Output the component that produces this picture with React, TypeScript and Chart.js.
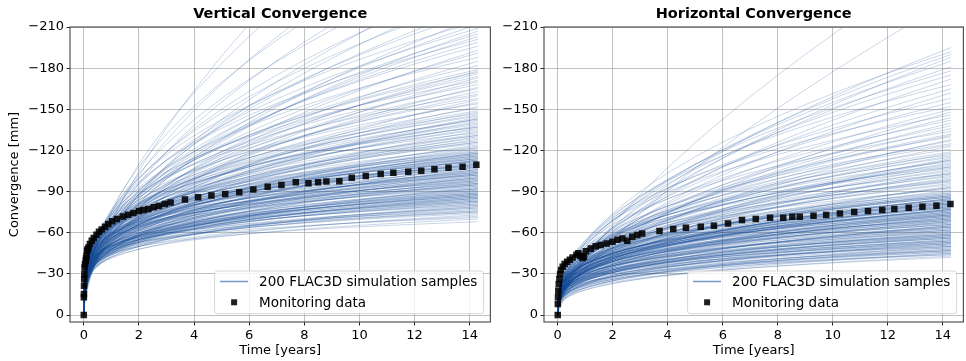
import React, { useEffect, useRef } from 'react';
import { Chart, registerables } from 'chart.js';

Chart.register(...registerables);

// ---------------- data ----------------
const T_END = 14.3;
const TIME_GRID = [0, 0.002, 0.005, 0.01, 0.02, 0.035, 0.05, 0.075, 0.1, 0.15, 0.2, 0.3, 0.4, 0.5, 0.65, 0.8, 1, 1.25, 1.5, 2, 2.5, 3, 3.5, 4, 5, 6, 7, 8, 9, 10, 11, 12, 13, 14.3];
const X_TICKS = [0, 2, 4, 6, 8, 10, 12, 14];
const Y_TICKS = [-210, -180, -150, -120, -90, -60, -30, 0];

const VERT_MON_T = [0, 0.003, 0.006, 0.01, 0.015, 0.02, 0.03, 0.045, 0.07, 0.085, 0.1, 0.12, 0.14, 0.17, 0.22, 0.29, 0.36, 0.46, 0.55, 0.65, 0.77, 0.89, 1.03, 1.2, 1.42, 1.61, 1.8, 2.0, 2.16, 2.34, 2.54, 2.73, 2.94, 3.15, 3.67, 4.15, 4.63, 5.13, 5.64, 6.15, 6.67, 7.17, 7.69, 8.15, 8.5, 8.8, 9.27, 9.72, 10.23, 10.77, 11.23, 11.77, 12.24, 12.72, 13.23, 13.74, 14.24];
const VERT_MON_V = [0, -12.9, -15.3, -21.4, -26.2, -29.9, -34.7, -37, -39.6, -41.5, -43.2, -46.9, -48, -49.3, -51.7, -54.2, -56.1, -58.6, -60.7, -62.4, -64.4, -66.3, -68.3, -70, -71.9, -73.1, -74.3, -75.8, -76.5, -77.3, -78.5, -79.4, -80.9, -82.1, -84.2, -85.9, -87.1, -88.3, -89.5, -91.5, -93.6, -94.8, -96.8, -96, -96.8, -97.3, -97.5, -100.1, -101.4, -102.8, -103.8, -104.5, -105.2, -106.2, -107.4, -108.1, -109.6];

const HORZ_MON_T = [0, 0.003, 0.01, 0.02, 0.036, 0.06, 0.085, 0.12, 0.18, 0.25, 0.34, 0.44, 0.54, 0.68, 0.75, 0.82, 0.9, 0.95, 1.02, 1.2, 1.38, 1.56, 1.78, 1.99, 2.17, 2.35, 2.53, 2.71, 2.89, 3.07, 3.7, 4.2, 4.66, 5.2, 5.68, 6.19, 6.7, 7.2, 7.72, 8.2, 8.53, 8.8, 9.3, 9.76, 10.26, 10.78, 11.28, 11.8, 12.24, 12.76, 13.26, 13.77, 14.28];
const HORZ_MON_V = [0, -8, -12.9, -17.7, -22.6, -26.2, -29.9, -32.8, -35.2, -37.2, -38.9, -40.3, -42, -44, -45, -43, -41.5, -42.5, -46.5, -48.4, -50.1, -51.1, -52.2, -53.5, -54.8, -55.8, -54.2, -57.1, -58.3, -59.5, -61.2, -62.7, -63.7, -64.4, -65.1, -66.8, -69.2, -70, -70.9, -70.9, -71.7, -71.7, -72.4, -72.9, -74.1, -75.1, -75.8, -76.5, -77.3, -78.2, -79, -79.7, -80.9];

// each simulation sample: convergence read at 2 years and at the end (14.3 years)
const VERT_SAMPLE_2Y = [
  -50, -48, -53, -50, -48, -53, -52, -55, -51, -53, -51, -55, -52, -57, -50, -55, -54, -57, -53, -57, -57, -54, -58, -56, -53, -58, -57, -60, -56, -58, -55, -60, -57, -56, -50, -55, -55, -59, -55, -59, -58, -54, -58,
  -60, -54, -64, -58, -53, -62, -60, -66, -57, -61, -56, -65, -59, -68, -55, -64, -61, -67, -58, -65, -65, -59, -68, -62, -58, -67, -64, -70, -62, -66, -60, -69, -64, -73, -59, -68, -66, -72, -63, -70, -69, -63, -73, -67, -62, -71, -69, -75, -66, -70, -65, -74, -68, -77, -64, -73, -70, -76,
  -55, -63, -64, -58, -68, -63, -59, -69, -67, -74, -66, -71, -66, -65, -62, -74, -61,
  -72, -66, -76, -70, -65, -75, -72, -78, -69, -74, -68, -77, -72, -81, -67, -77, -74, -80, -71, -79, -78, -72, -82, -76, -71, -81, -78, -84, -75, -80, -66, -76, -71, -82, -70,
  -81, -72, -86, -78, -70, -84, -80, -89, -77, -83, -74, -88, -79, -92, -73, -86, -81, -90, -78, -88,
  -87, -79, -93, -85, -78, -91, -88, -97, -85, -91, -82, -96,
  -87, -100, -81, -95, -90, -100, -88, -99, -88, -103, -96, -108, -102, -110, -105,
];
const VERT_SAMPLE_END = [
  -68, -70, -71, -72, -73, -74, -75, -75, -76, -77, -78, -78, -79, -80, -80, -81, -82, -82, -83, -83, -84, -85, -85, -86, -86, -87, -87, -88, -88, -89, -89, -90, -90, -76, -79, -81, -84, -86, -88, -89, -87, -85, -83,
  -91, -91, -92, -92, -93, -93, -94, -94, -95, -95, -96, -96, -97, -97, -98, -98, -99, -99, -100, -100, -101, -101, -102, -102, -103, -103, -104, -104, -105, -105, -106, -106, -107, -107, -108, -108, -109, -109, -110, -110, -111, -111, -112, -112, -113, -113, -114, -114, -115, -115, -116, -116, -117, -117, -118, -118, -119, -119,
  -92, -95, -98, -100, -102, -104, -106, -108, -110, -112, -114, -116, -118, -96, -103, -109, -113,
  -120, -121, -122, -123, -124, -125, -126, -127, -128, -129, -130, -131, -132, -133, -134, -135, -136, -137, -138, -139, -140, -141, -142, -143, -144, -145, -146, -147, -148, -149, -122, -126, -131, -137, -143,
  -151, -152, -154, -155, -157, -158, -160, -161, -163, -165, -166, -168, -170, -171, -173, -174, -176, -177, -178, -179,
  -182, -185, -188, -191, -193, -196, -199, -201, -203, -205, -207, -209,
  -212, -214, -217, -221, -225, -230, -236, -242, -248, -258, -270, -285, -300, -330, -370,
];

const HORZ_SAMPLE_2Y = [
  -24, -23, -28, -25, -23, -28, -26, -30, -26, -28, -25, -30, -27, -32, -25, -31, -29, -33, -28, -32, -32, -29, -34, -31, -29, -34, -32, -36, -31, -34, -31, -36, -33, -38, -31,
  -26, -27, -31, -28, -33, -33, -31, -36, -33, -28,
  -36, -32, -39, -35, -33, -39, -38, -42, -37, -40, -37, -43, -39, -46, -36, -43, -41, -45, -40, -45, -45, -41, -47, -44, -41, -48, -46, -50, -45,
  -32, -37, -35, -40, -33, -38, -41, -36, -44, -39, -37, -42, -35, -42, -45, -41, -40, -45, -43, -39, -41, -46, -43, -49, -41, -47, -49, -44, -52,
  -36, -34, -40, -35, -39, -42, -39, -44, -37, -42, -45, -40, -42, -45, -40, -49, -43, -42, -48, -41, -47, -48, -36, -39, -44, -39, -45,
  -49, -43, -53, -47, -42, -51, -49, -55, -46, -50, -45, -54, -48, -58, -44, -53, -50, -57, -48, -55, -54, -49, -58, -52, -47, -57, -54, -60, -52, -56, -43, -53, -49, -59, -46,
  -58, -51, -62, -55, -49, -61, -57, -66, -54, -59, -53, -64, -56, -69, -51, -59, -56,
  -72, -60, -73, -63, -57, -69, -63, -71, -58, -69,
  -64, -74, -68, -61, -70, -64,
  -66, -55,
];
const HORZ_SAMPLE_END = [
  -42, -43, -44, -45, -45, -46, -46, -47, -47, -48, -48, -49, -49, -50, -50, -51, -51, -52, -52, -53, -53, -54, -54, -55, -55, -56, -56, -57, -57, -58, -58, -59, -59, -60, -60,
  -44, -47, -50, -52, -54, -56, -57, -58, -59, -53,
  -61, -62, -63, -64, -65, -66, -67, -68, -69, -70, -71, -72, -73, -74, -75, -76, -77, -78, -79, -80, -81, -82, -83, -84, -85, -86, -87, -88, -89,
  -61, -62, -63, -64, -65, -66, -67, -68, -69, -70, -71, -72, -73, -74, -75, -76, -77, -78, -79, -80, -81, -82, -83, -84, -85, -86, -87, -88, -89,
  -62, -64, -66, -68, -70, -71, -72, -73, -74, -75, -76, -77, -78, -79, -80, -81, -82, -83, -84, -85, -86, -87, -65, -69, -73, -77, -81,
  -90, -91, -92, -93, -94, -95, -96, -97, -98, -99, -100, -101, -102, -103, -104, -105, -106, -107, -108, -109, -110, -111, -112, -113, -114, -115, -116, -117, -118, -119, -93, -98, -103, -108, -113,
  -121, -123, -125, -127, -128, -130, -132, -134, -136, -138, -140, -142, -144, -146, -148, -124, -131,
  -178, -172, -168, -165, -162, -158, -155, -152, -150, -175,
  -195, -192, -190, -188, -185, -181,
  -263, -230,
];

// ---------------- styles ----------------
const FONT = 'DejaVu Sans';
const SAMPLE_COLOR = 'rgba(16, 72, 148, 0.22)';
const LEGEND_LINE = 'rgba(22, 82, 160, 0.6)';
const MON_COLOR = 'rgba(0, 0, 0, 0.88)';
const GRID_COLOR = 'rgba(160, 160, 160, 0.65)';
const SPINE_COLOR = '#555555';

function sampleCurve(v2: number, vEnd: number) {
  const b = Math.log(vEnd / v2) / Math.log(T_END / 2);
  return TIME_GRID.map((t) => ({ x: t, y: t === 0 ? 0 : v2 * Math.pow(t / 2, b) }));
}

function fmtY(v: number) {
  return v < 0 ? '\u2212' + Math.abs(v) : String(v);
}

type PanelProps = {
  title: string;
  yLabel: boolean;
  s2: number[];
  sEnd: number[];
  monT: number[];
  monV: number[];
  left: number;
  width: number;
  yAxisWidth: number;
  padRight: number;
};

function Panel(p: PanelProps) {
  const ref = useRef<HTMLCanvasElement | null>(null);
  useEffect(() => {
    if (!ref.current) return;
    const decor = {
      id: 'decor',
      afterDraw(chart: any) {
        const { ctx, chartArea: a } = chart;
        ctx.save();
        // spines
        ctx.strokeStyle = SPINE_COLOR;
        ctx.lineWidth = 1.2;
        ctx.strokeRect(a.left, a.top, a.right - a.left, a.bottom - a.top);
        // title
        const cx = (a.left + a.right) / 2;
        ctx.fillStyle = '#000';
        ctx.textAlign = 'center';
        ctx.textBaseline = 'alphabetic';
        ctx.font = `bold 14.5px "${FONT}"`;
        ctx.fillText(p.title, cx, 17.5);
        // x label
        ctx.font = `13px "${FONT}"`;
        ctx.fillText('Time [years]', cx, 353.5);
        if (p.yLabel) {
          ctx.save();
          ctx.translate(18, (a.top + a.bottom) / 2);
          ctx.rotate(-Math.PI / 2);
          ctx.fillText('Convergence [mm]', 0, 0);
          ctx.restore();
        }
        // legend
        const bw = 269;
        const bh = 42.7;
        const bx = a.right - 6.8 - bw;
        const by = a.bottom - 8.3 - bh;
        const r = 3;
        ctx.beginPath();
        ctx.moveTo(bx + r, by);
        ctx.lineTo(bx + bw - r, by);
        ctx.quadraticCurveTo(bx + bw, by, bx + bw, by + r);
        ctx.lineTo(bx + bw, by + bh - r);
        ctx.quadraticCurveTo(bx + bw, by + bh, bx + bw - r, by + bh);
        ctx.lineTo(bx + r, by + bh);
        ctx.quadraticCurveTo(bx, by + bh, bx, by + bh - r);
        ctx.lineTo(bx, by + r);
        ctx.quadraticCurveTo(bx, by, bx + r, by);
        ctx.closePath();
        ctx.fillStyle = 'rgba(255,255,255,0.8)';
        ctx.fill();
        ctx.strokeStyle = 'rgba(204,204,204,0.8)';
        ctx.lineWidth = 1;
        ctx.stroke();
        ctx.strokeStyle = LEGEND_LINE;
        ctx.lineWidth = 1.5;
        ctx.beginPath();
        ctx.moveTo(bx + 5.5, by + 10.5);
        ctx.lineTo(bx + 33.5, by + 10.5);
        ctx.stroke();
        ctx.fillStyle = MON_COLOR;
        ctx.fillRect(bx + 19.5 - 3, by + 31.3 - 3, 6, 6);
        ctx.fillStyle = '#000';
        ctx.textAlign = 'left';
        ctx.font = `13.5px "${FONT}"`;
        ctx.fillText('200 FLAC3D simulation samples', bx + 44.5, by + 14.7);
        ctx.fillText('Monitoring data', bx + 44.5, by + 35.6);
        ctx.restore();
      },
    };

    const datasets: any[] = [
      {
        label: 'Monitoring data',
        data: p.monT.map((t, i) => ({ x: t, y: p.monV[i] })),
        showLine: false,
        pointStyle: 'rect',
        pointRadius: 4.6,
        pointBorderWidth: 0,
        pointBackgroundColor: MON_COLOR,
        borderWidth: 0,
        order: 0,
      },
    ];
    for (let i = 0; i < p.s2.length; i++) {
      datasets.push({
        label: 'sample',
        data: sampleCurve(p.s2[i], p.sEnd[i]),
        borderColor: SAMPLE_COLOR,
        borderWidth: 1,
        pointRadius: 0,
        fill: false,
        tension: 0,
        order: 1,
      });
    }

    const chart = new Chart(ref.current, {
      type: 'line',
      data: { datasets },
      options: {
        responsive: false,
        animation: false,
        devicePixelRatio: 1,
        parsing: false,
        normalized: true,
        events: [],
        layout: { padding: { left: 0, top: 27, right: p.padRight, bottom: 0 } },
        plugins: { legend: { display: false }, tooltip: { enabled: false }, title: { display: false } },
        scales: {
          x: {
            type: 'linear',
            min: -0.5,
            max: 14.75,
            afterBuildTicks: (s: any) => {
              s.ticks = X_TICKS.map((v) => ({ value: v }));
            },
            afterFit: (s: any) => {
              s.height = 39;
            },
            ticks: {
              color: '#000',
              font: { family: FONT, size: 13 },
              padding: 2,
              maxRotation: 0,
              autoSkip: false,
              callback: (v: any) => String(v),
            },
            grid: { color: GRID_COLOR, lineWidth: 1, tickLength: 3.5, tickColor: '#222', tickWidth: 1 },
            border: { display: false },
          },
          y: {
            type: 'linear',
            reverse: true,
            min: -210,
            max: 5.1,
            afterBuildTicks: (s: any) => {
              s.ticks = Y_TICKS.map((v) => ({ value: v }));
            },
            afterFit: (s: any) => {
              s.width = p.yAxisWidth;
            },
            ticks: {
              color: '#000',
              font: { family: FONT, size: 13 },
              padding: 2.5,
              autoSkip: false,
              callback: (v: any) => fmtY(Number(v)),
            },
            grid: { color: GRID_COLOR, lineWidth: 1, tickLength: 3.5, tickColor: '#222', tickWidth: 1 },
            border: { display: false },
          },
        },
      } as any,
      plugins: [decor as any],
    });
    return () => chart.destroy();
  }, []);
  return (
    <canvas
      ref={ref}
      width={p.width}
      height={361}
      style={{ position: 'absolute', left: p.left, top: 0, width: p.width, height: 361 }}
    />
  );
}

export default function App() {
  return (
    <div style={{ position: 'absolute', left: 0, top: 0, width: 966, height: 361, overflow: 'hidden', background: '#fff' }}>
      <Panel title="Vertical Convergence" yLabel={true} s2={VERT_SAMPLE_2Y} sEnd={VERT_SAMPLE_END} monT={VERT_MON_T} monV={VERT_MON_V} left={0} width={495} yAxisWidth={70} padRight={1} />
      <Panel title="Horizontal Convergence" yLabel={false} s2={HORZ_SAMPLE_2Y} sEnd={HORZ_SAMPLE_END} monT={HORZ_MON_T} monV={HORZ_MON_V} left={495} width={473} yAxisWidth={49} padRight={0} />
    </div>
  );
}
